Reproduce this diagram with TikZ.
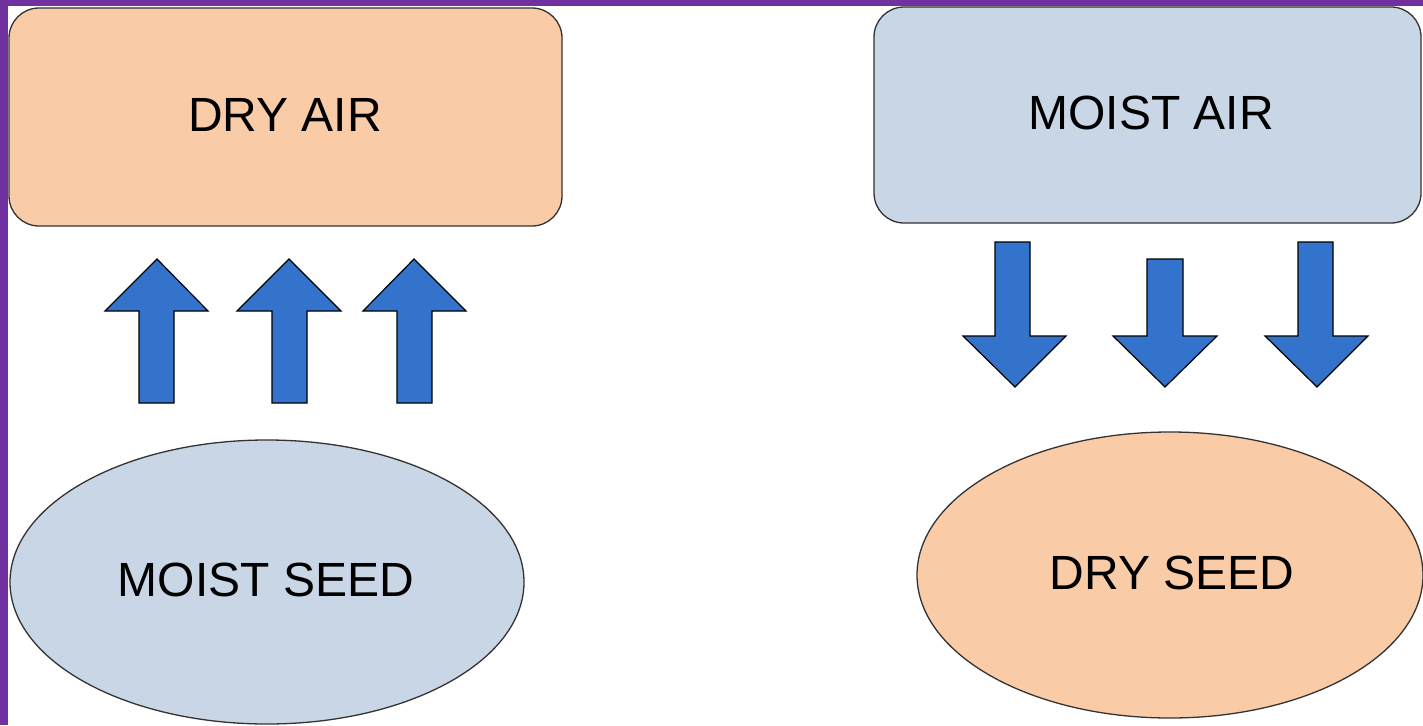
\documentclass[tikz,border=0pt]{standalone}
\usepackage{fontspec}
\setmainfont{Liberation Sans}
\definecolor{peach}{HTML}{F9CBA7}
\definecolor{bluegrey}{HTML}{C9D6E6}
\definecolor{arrowblue}{HTML}{3373CC}
\definecolor{frame}{HTML}{7030A0}
\definecolor{edge}{HTML}{333333}
\begin{document}
\begin{tikzpicture}[x=1pt,y=-1pt,
  lbl/.style={font=\fontsize{48}{58}\selectfont, text=black},
  box/.style={draw=edge, line width=1.3pt, rounded corners=30pt, inner sep=0pt},
  seedshape/.style={draw=edge, line width=1.3pt},
  blockarrow/.style={fill=arrowblue, draw=black, line width=1.2pt, line join=miter}]
\useasboundingbox (0,0) rectangle (1423,725);
\fill[white] (0,0) rectangle (1423,725);
% boxes
\draw[box, fill=peach] (9,8) rectangle (562,226);
\node[lbl] (dryair) at (285,115) {DRY AIR};
\draw[box, fill=bluegrey] (874,7) rectangle (1421,223);
\node[lbl] (moistair) at (1151,113) {MOIST AIR};
% ellipses
\draw[seedshape, fill=bluegrey] (267,582) ellipse [x radius=257, y radius=142];
\node[lbl] (moistseed) at (266,580) {MOIST SEED};
\draw[seedshape, fill=peach] (1170,575) ellipse [x radius=253, y radius=143];
\node[lbl] (dryseed) at (1172,573) {DRY SEED};
% up arrows
\foreach \hl/\sl/\tx/\sr/\hr in {105/139/157/174/208, 237/272/289/307/341, 363/397/414/432/466}{
  \draw[blockarrow] (\sl,403) -- (\sl,311) -- (\hl,311) -- (\tx,259) -- (\hr,311) -- (\sr,311) -- (\sr,403) -- cycle;
}
% down arrows
\foreach \hl/\sl/\tx/\sr/\hr/\top in {963/995/1015/1030/1066/242, 1113/1147/1165/1183/1217/259, 1265/1298/1317/1333/1368/242}{
  \draw[blockarrow] (\sl,\top) -- (\sl,336) -- (\hl,336) -- (\tx,387) -- (\hr,336) -- (\sr,336) -- (\sr,\top) -- cycle;
}
% purple frame strips
\fill[frame] (0,0) rectangle (1423,6);
\fill[frame] (0,0) rectangle (8,725);
\end{tikzpicture}
\end{document}
